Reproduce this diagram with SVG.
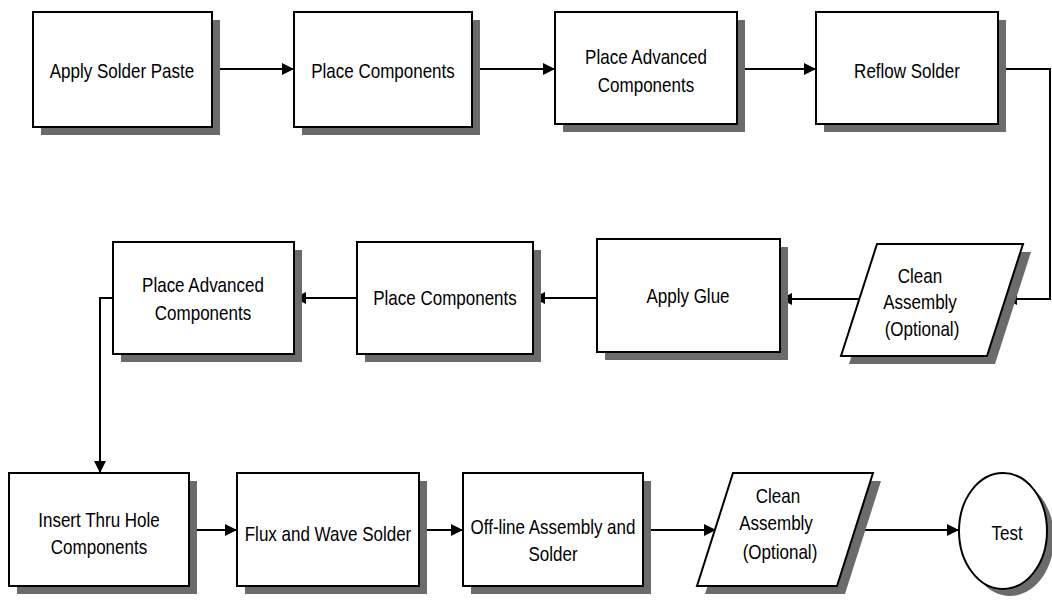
<svg xmlns="http://www.w3.org/2000/svg" width="1052" height="600" viewBox="0 0 1052 600">
<style>
.box{fill:#fff;stroke:#000;stroke-width:2}
.sh{fill:#6b6b6b}
.t{font-family:"Liberation Sans",Arial,sans-serif;font-size:20px;fill:#000;text-anchor:middle;dominant-baseline:central;transform-box:fill-box;transform-origin:center;transform:scaleX(0.85)}
.c{fill:none;stroke:#000;stroke-width:2}
</style>
<defs>
<marker id="ah" markerWidth="12" markerHeight="12" refX="11" refY="6" orient="auto" markerUnits="userSpaceOnUse">
<path d="M0,0 L12,6 L0,12 Z" fill="#000"/>
</marker>
</defs>
<rect width="1052" height="600" fill="#fff"/>
<g id="connectors">
<line class="c" x1="212" y1="69" x2="293" y2="69" marker-end="url(#ah)"/>
<line class="c" x1="472" y1="69" x2="554" y2="69" marker-end="url(#ah)"/>
<line class="c" x1="737" y1="69" x2="815" y2="69" marker-end="url(#ah)"/>
<polyline class="c" points="998,69 1050,69 1050,299 1006,299" marker-end="url(#ah)"/>
<line class="c" x1="859" y1="299" x2="781" y2="299" marker-end="url(#ah)"/>
<line class="c" x1="597" y1="298" x2="534" y2="298" marker-end="url(#ah)"/>
<line class="c" x1="357" y1="298" x2="295" y2="298" marker-end="url(#ah)"/>
<polyline class="c" points="113,298 100,298 100,472" marker-end="url(#ah)"/>
<line class="c" x1="189" y1="530" x2="236" y2="530" marker-end="url(#ah)"/>
<line class="c" x1="419" y1="530" x2="462" y2="530" marker-end="url(#ah)"/>
<line class="c" x1="643" y1="530" x2="715" y2="530" marker-end="url(#ah)"/>
<line class="c" x1="855" y1="530" x2="958" y2="530" marker-end="url(#ah)"/>
</g>
<g id="n1"><rect class="sh" x="41" y="20" width="179" height="115"/><rect class="box" x="33" y="12" width="179" height="115"/><text class="t" x="122" y="71">Apply Solder Paste</text></g>
<g id="n2"><rect class="sh" x="302" y="20" width="178" height="115"/><rect class="box" x="294" y="12" width="178" height="115"/><text class="t" x="383" y="71">Place Components</text></g>
<g id="n3"><rect class="sh" x="563" y="20" width="182" height="112"/><rect class="box" x="555" y="12" width="182" height="112"/><text class="t" x="646" y="57">Place Advanced</text><text class="t" x="646" y="85">Components</text></g>
<g id="n4"><rect class="sh" x="824" y="20" width="182" height="112"/><rect class="box" x="816" y="12" width="182" height="112"/><text class="t" x="907" y="71">Reflow Solder</text></g>
<g id="n5"><polygon class="sh" points="885,252 1031,252 995,364 849,364"/><polygon class="box" points="877,244 1023,244 987,356 841,356"/><text class="t" x="920" y="276">Clean</text><text class="t" x="920" y="302">Assembly</text><text class="t" x="922" y="329">(Optional)</text></g>
<g id="n6"><rect class="sh" x="605" y="247" width="183" height="113"/><rect class="box" x="597" y="239" width="183" height="113"/><text class="t" x="688" y="296">Apply Glue</text></g>
<g id="n7"><rect class="sh" x="365" y="250" width="176" height="112"/><rect class="box" x="357" y="242" width="176" height="112"/><text class="t" x="445" y="298">Place Components</text></g>
<g id="n8"><rect class="sh" x="121" y="250" width="181" height="112"/><rect class="box" x="113" y="242" width="181" height="112"/><text class="t" x="203" y="285">Place Advanced</text><text class="t" x="203" y="313">Components</text></g>
<g id="n9"><rect class="sh" x="17" y="481" width="180" height="113"/><rect class="box" x="9" y="473" width="180" height="113"/><text class="t" x="99" y="520">Insert Thru Hole</text><text class="t" x="99" y="547">Components</text></g>
<g id="n10"><rect class="sh" x="245" y="481" width="182" height="113"/><rect class="box" x="237" y="473" width="182" height="113"/><text class="t" x="328" y="534">Flux and Wave Solder</text></g>
<g id="n11"><rect class="sh" x="471" y="481" width="180" height="113"/><rect class="box" x="463" y="473" width="180" height="113"/><text class="t" x="553" y="527">Off-line Assembly and</text><text class="t" x="553" y="554">Solder</text></g>
<g id="n12"><polygon class="sh" points="741,481 881,481 845,594 705,594"/><polygon class="box" points="733,473 873,473 837,586 697,586"/><text class="t" x="778" y="496">Clean</text><text class="t" x="776" y="523">Assembly</text><text class="t" x="780" y="552">(Optional)</text></g>
<g id="n13"><ellipse class="sh" cx="1010" cy="538" rx="44" ry="58"/><ellipse class="box" cx="1003" cy="531" rx="44" ry="58"/><text class="t" x="1007" y="533">Test</text></g>
</svg>
